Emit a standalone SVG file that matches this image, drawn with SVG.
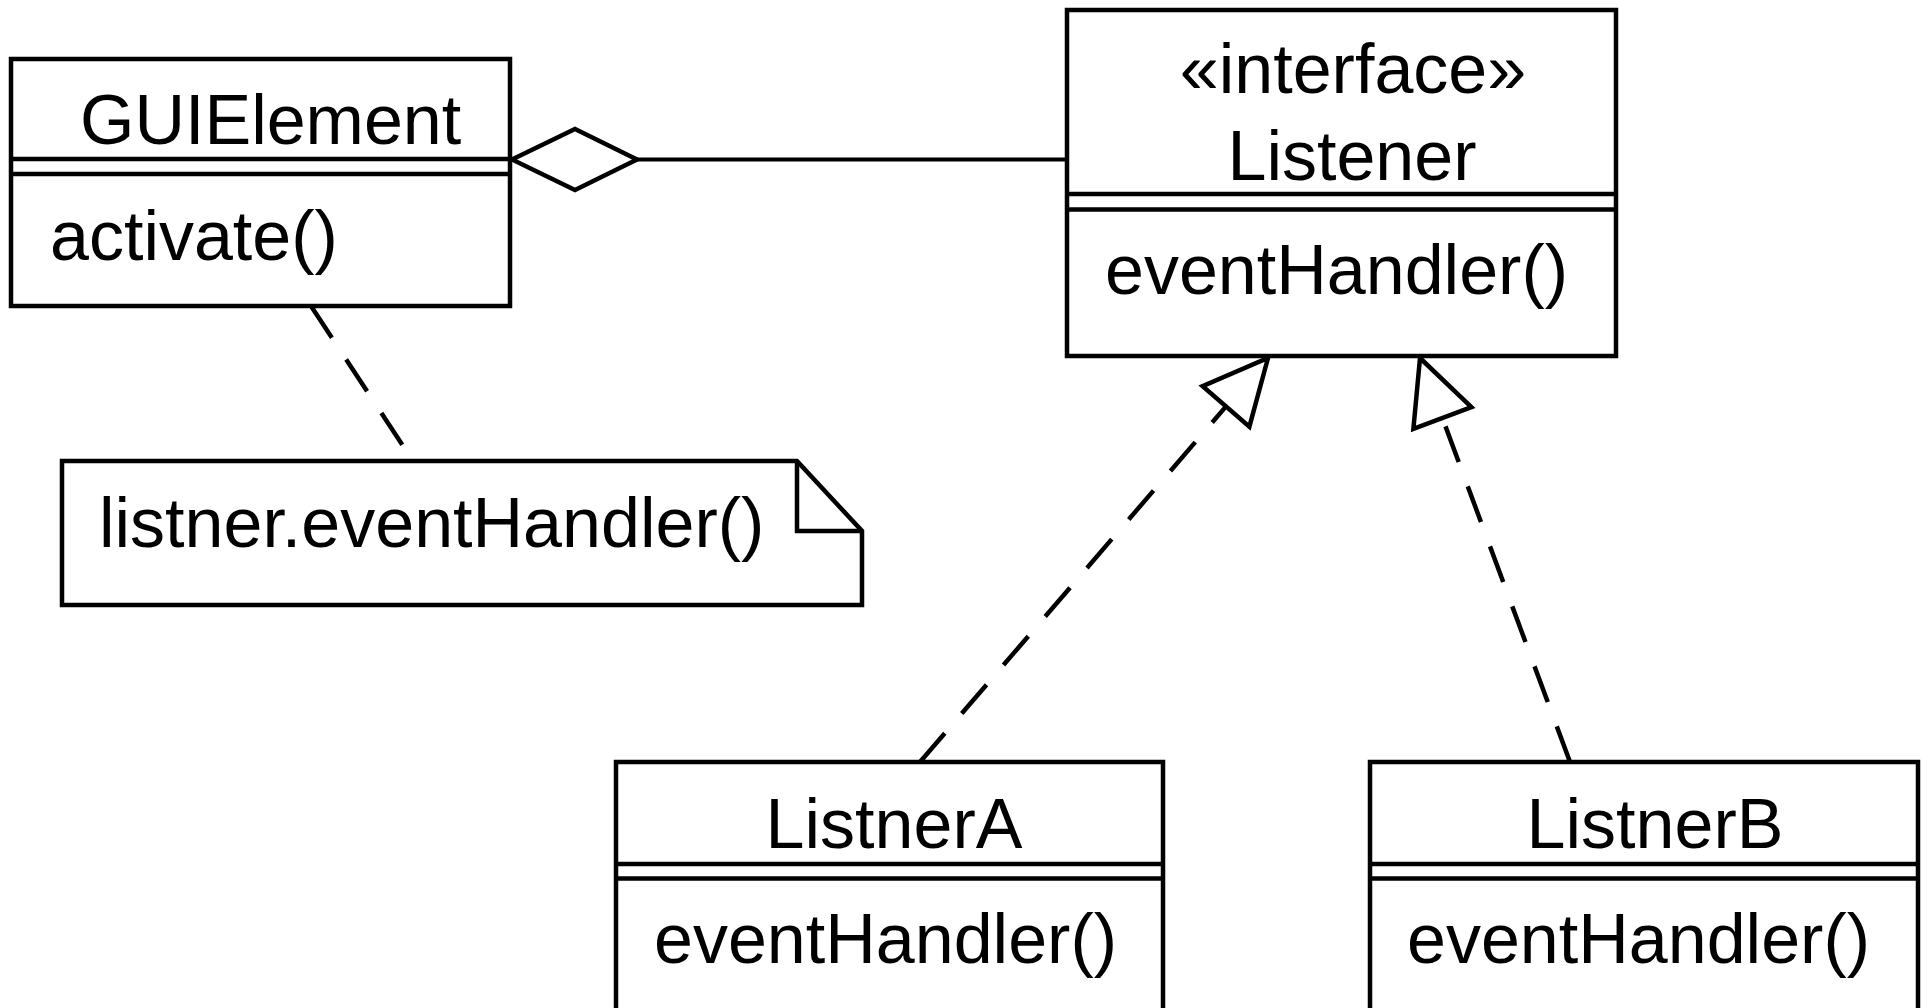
<svg xmlns="http://www.w3.org/2000/svg" width="1931" height="1008" viewBox="0 0 1931 1008">
  <style>
    .box { fill: #ffffff; stroke: #000000; stroke-width: 4.5; }
    .sep { stroke: #000000; stroke-width: 4.5; fill: none; }
    .txt { font-family: "Liberation Sans", Arial, sans-serif; font-size: 70px; fill: #000000; }
    .mid { text-anchor: middle; }
    .solid { stroke: #000000; stroke-width: 4; fill: none; }
    .dash { stroke: #000000; stroke-width: 4.5; fill: none; stroke-dasharray: 38 26; }
    .head { fill: #ffffff; stroke: #000000; stroke-width: 4.5; stroke-linejoin: miter; }
  </style>
  <rect width="1931" height="1008" fill="#ffffff"/>

  <!-- connectors -->
  <g id="connectors">
    <!-- aggregation: GUIElement holds a Listener -->
    <line class="solid" x1="636" y1="159.5" x2="1067" y2="159.5"/>
    <polygon class="head" points="512,159.5 575,129 637,159.5 575,190"/>
    <!-- note anchor -->
    <line class="dash" x1="311" y1="306" x2="413" y2="461"/>
    <!-- realization: ListnerA -> Listener -->
    <line class="dash" x1="920" y1="762" x2="1226" y2="406.4"/>
    <polygon class="head" points="1268,358 1249.4,426.7 1202.6,386.1"/>
    <!-- realization: ListnerB -> Listener -->
    <line class="dash" x1="1570" y1="762" x2="1442.4" y2="418"/>
    <polygon class="head" points="1420,358 1471.4,407.1 1413.4,428.9"/>
  </g>

  <!-- GUIElement class -->
  <g id="gui-element">
    <rect class="box" x="11" y="59" width="499" height="247"/>
    <line class="sep" x1="11" y1="159" x2="510" y2="159"/>
    <line class="sep" x1="11" y1="174" x2="510" y2="174"/>
    <text class="txt" x="80" y="144">GUIElement</text>
    <text class="txt" x="50" y="260">activate()</text>
  </g>

  <!-- Listener interface -->
  <g id="listener">
    <rect class="box" x="1067" y="10" width="549" height="346"/>
    <line class="sep" x1="1067" y1="194" x2="1616" y2="194"/>
    <line class="sep" x1="1067" y1="209.5" x2="1616" y2="209.5"/>
    <text class="txt mid" x="1353" y="93">«interface»</text>
    <text class="txt mid" x="1352" y="180">Listener</text>
    <text class="txt" x="1105" y="294">eventHandler()</text>
  </g>

  <!-- note attached to GUIElement -->
  <g id="note">
    <path class="box" d="M62,461 H797 L862,531 V605 H62 Z"/>
    <path class="sep" d="M797,461 V531 H862"/>
    <text class="txt" x="99" y="547">listner.eventHandler()</text>
  </g>

  <!-- ListnerA class -->
  <g id="listner-a">
    <rect class="box" x="616" y="762" width="547" height="260"/>
    <line class="sep" x1="616" y1="864" x2="1163" y2="864"/>
    <line class="sep" x1="616" y1="878.5" x2="1163" y2="878.5"/>
    <text class="txt mid" x="894" y="848">ListnerA</text>
    <text class="txt" x="654" y="963">eventHandler()</text>
  </g>

  <!-- ListnerB class -->
  <g id="listner-b">
    <rect class="box" x="1370" y="762" width="548" height="260"/>
    <line class="sep" x1="1370" y1="864" x2="1918" y2="864"/>
    <line class="sep" x1="1370" y1="878.5" x2="1918" y2="878.5"/>
    <text class="txt mid" x="1655" y="848">ListnerB</text>
    <text class="txt" x="1407" y="963">eventHandler()</text>
  </g>
</svg>
